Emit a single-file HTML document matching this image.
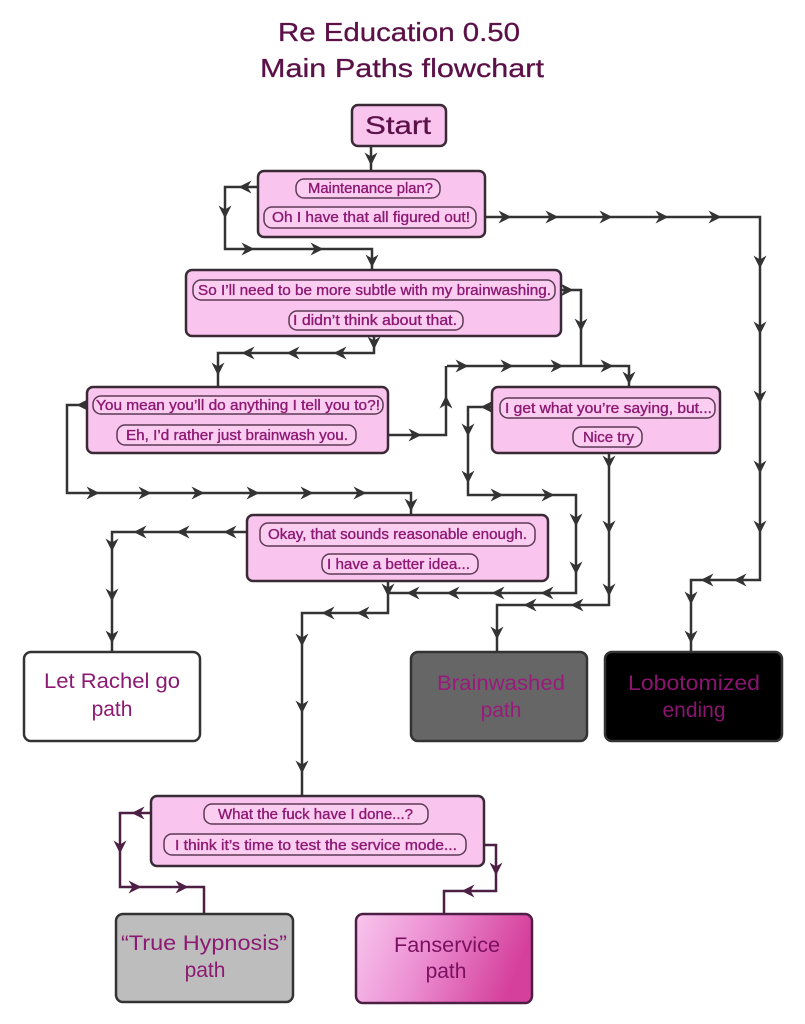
<!DOCTYPE html>
<html><head><meta charset="utf-8"><style>
html,body{margin:0;padding:0;background:#fff;}
svg{display:block;}
text{font-family:"Liberation Sans","DejaVu Sans",sans-serif;}
.pt{font-size:14.5px;fill:#8c1a72;stroke:#8c1a72;stroke-width:0.35;}
.bx{fill:#f9c4ee;stroke:#3a2a36;stroke-width:2.5;}
.pl{fill:#fbcdf1;stroke:#5e3a55;stroke-width:1.5;}
.ln{fill:none;stroke:#333;stroke-width:2.5;stroke-linejoin:miter;}
.lp{fill:none;stroke:#4d1f45;stroke-width:2.5;}
.et{font-size:21px;text-anchor:middle;}
</style></head><body>
<svg width="805" height="1024" viewBox="0 0 805 1024" xmlns="http://www.w3.org/2000/svg">
<defs>
<path id="a" d="M6.5,0 L-6.5,-6.5 L-2.5,0 L-6.5,6.5 Z" fill="#333"/>
<path id="b" d="M6.5,0 L-6.5,-6.5 L-2.5,0 L-6.5,6.5 Z" fill="#4d1f45"/>
<linearGradient id="fg" x1="0" y1="0" x2="1" y2="0.2">
<stop offset="0" stop-color="#f8c6ee"/>
<stop offset="0.45" stop-color="#ec8fd2"/>
<stop offset="1" stop-color="#d5409c"/>
</linearGradient>
</defs>

<!-- Title -->
<text x="399" y="41" font-size="26" fill="#5b1148" stroke="#5b1148" stroke-width="0.3" text-anchor="middle" textLength="242" lengthAdjust="spacingAndGlyphs">Re Education 0.50</text>
<text x="402" y="77" font-size="26" fill="#5b1148" stroke="#5b1148" stroke-width="0.3" text-anchor="middle" textLength="284" lengthAdjust="spacingAndGlyphs">Main Paths flowchart</text>

<!-- Connectors -->
<polyline class="ln" points="371,146 371,171"/>
<polyline class="ln" points="296,187 225,187 225,249 372,249 372,270"/>
<polyline class="ln" points="476,217 760,217 760,580 691,580 691,652"/>
<polyline class="ln" points="555,290 581,290 581,366"/>
<polyline class="ln" points="447,366 629,366 629,387"/>
<polyline class="ln" points="374,330 374,353 218,353 218,387"/>
<polyline class="ln" points="93,405 67,405 67,493 411,493 411,515"/>
<polyline class="ln" points="356,435 446,435 446,366"/>
<polyline class="ln" points="500,407 468,407 468,495 576,495 576,593 388,593"/>
<polyline class="ln" points="609,447 609,605 497,605 497,652"/>
<polyline class="ln" points="260,532 112,532 112,652"/>
<polyline class="ln" points="388,574 388,613 302,613 302,796"/>
<polyline class="lp" points="204,813 120,813 120,887 204,887 204,914"/>
<polyline class="lp" points="466,845 496,845 496,891 444,891 444,914"/>

<!-- Arrowheads -->
<use href="#a" transform="translate(371,159) rotate(90)"/>
<use href="#a" transform="translate(278,187) rotate(180)"/>
<use href="#a" transform="translate(245,187) rotate(180)"/>
<use href="#a" transform="translate(225,212) rotate(90)"/>
<use href="#a" transform="translate(248,249)"/>
<use href="#a" transform="translate(317,249)"/>
<use href="#a" transform="translate(372,261) rotate(90)"/>

<use href="#a" transform="translate(505,217)"/>
<use href="#a" transform="translate(552,217)"/>
<use href="#a" transform="translate(606,217)"/>
<use href="#a" transform="translate(662,217)"/>
<use href="#a" transform="translate(715,217)"/>
<use href="#a" transform="translate(760,262) rotate(90)"/>
<use href="#a" transform="translate(760,328) rotate(90)"/>
<use href="#a" transform="translate(760,397) rotate(90)"/>
<use href="#a" transform="translate(760,467) rotate(90)"/>
<use href="#a" transform="translate(760,527) rotate(90)"/>
<use href="#a" transform="translate(740,580) rotate(180)"/>
<use href="#a" transform="translate(707,580) rotate(180)"/>
<use href="#a" transform="translate(691,598) rotate(90)"/>
<use href="#a" transform="translate(691,637) rotate(90)"/>

<use href="#a" transform="translate(567,290)"/>
<use href="#a" transform="translate(581,325) rotate(90)"/>
<use href="#a" transform="translate(462,366)"/>
<use href="#a" transform="translate(507,366)"/>
<use href="#a" transform="translate(557,366)"/>
<use href="#a" transform="translate(607,366)"/>
<use href="#a" transform="translate(629,378) rotate(90)"/>

<use href="#a" transform="translate(374,343) rotate(90)"/>
<use href="#a" transform="translate(340,353) rotate(180)"/>
<use href="#a" transform="translate(293,353) rotate(180)"/>
<use href="#a" transform="translate(248,353) rotate(180)"/>
<use href="#a" transform="translate(218,369) rotate(90)"/>

<use href="#a" transform="translate(83,405) rotate(180)"/>
<use href="#a" transform="translate(93,493)"/>
<use href="#a" transform="translate(145,493)"/>
<use href="#a" transform="translate(198,493)"/>
<use href="#a" transform="translate(253,493)"/>
<use href="#a" transform="translate(307,493)"/>
<use href="#a" transform="translate(360,493)"/>
<use href="#a" transform="translate(411,505) rotate(90)"/>

<use href="#a" transform="translate(373,435)"/>
<use href="#a" transform="translate(415,435)"/>
<use href="#a" transform="translate(446,402) rotate(-90)"/>

<use href="#a" transform="translate(487,407) rotate(180)"/>
<use href="#a" transform="translate(468,430) rotate(90)"/>
<use href="#a" transform="translate(468,477) rotate(90)"/>
<use href="#a" transform="translate(497,495)"/>
<use href="#a" transform="translate(548,495)"/>
<use href="#a" transform="translate(576,520) rotate(90)"/>
<use href="#a" transform="translate(576,568) rotate(90)"/>
<use href="#a" transform="translate(547,593) rotate(180)"/>
<use href="#a" transform="translate(498,593) rotate(180)"/>
<use href="#a" transform="translate(453,593) rotate(180)"/>
<use href="#a" transform="translate(413,593) rotate(180)"/>

<use href="#a" transform="translate(609,462) rotate(90)"/>
<use href="#a" transform="translate(609,527) rotate(90)"/>
<use href="#a" transform="translate(609,590) rotate(90)"/>
<use href="#a" transform="translate(577,605) rotate(180)"/>
<use href="#a" transform="translate(530,605) rotate(180)"/>
<use href="#a" transform="translate(497,633) rotate(90)"/>

<use href="#a" transform="translate(230,532) rotate(180)"/>
<use href="#a" transform="translate(183,532) rotate(180)"/>
<use href="#a" transform="translate(140,532) rotate(180)"/>
<use href="#a" transform="translate(112,545) rotate(90)"/>
<use href="#a" transform="translate(112,595) rotate(90)"/>
<use href="#a" transform="translate(112,637) rotate(90)"/>

<use href="#a" transform="translate(388,590) rotate(90)"/>
<use href="#a" transform="translate(363,613) rotate(180)"/>
<use href="#a" transform="translate(328,613) rotate(180)"/>
<use href="#a" transform="translate(302,640) rotate(90)"/>
<use href="#a" transform="translate(302,707) rotate(90)"/>
<use href="#a" transform="translate(302,767) rotate(90)"/>

<use href="#b" transform="translate(185,813) rotate(180)"/>
<use href="#b" transform="translate(138,813) rotate(180)"/>
<use href="#b" transform="translate(120,847) rotate(90)"/>
<use href="#b" transform="translate(135,887)"/>
<use href="#b" transform="translate(182,887)"/>
<use href="#b" transform="translate(496,869) rotate(90)"/>
<use href="#b" transform="translate(468,891) rotate(180)"/>

<!-- Start -->
<rect class="bx" x="352" y="105" width="94" height="41" rx="6"/>
<text x="398" y="134" font-size="25" fill="#5b1148" stroke="#5b1148" stroke-width="0.3" text-anchor="middle" textLength="66" lengthAdjust="spacingAndGlyphs">Start</text>

<!-- Box1 -->
<rect class="bx" x="258" y="171" width="227" height="66" rx="6"/>
<rect class="pl" x="296" y="179" width="144" height="19" rx="8"/>
<text class="pt" x="308" y="193" textLength="125" lengthAdjust="spacingAndGlyphs">Maintenance plan?</text>
<rect class="pl" x="264" y="207" width="212" height="21" rx="8"/>
<text class="pt" x="272" y="222" textLength="198" lengthAdjust="spacingAndGlyphs">Oh I have that all figured out!</text>

<!-- Box2 -->
<rect class="bx" x="186" y="270" width="375" height="66" rx="6"/>
<rect class="pl" x="193" y="280" width="362" height="20" rx="8"/>
<text class="pt" x="198" y="295" textLength="353" lengthAdjust="spacingAndGlyphs">So I’ll need to be more subtle with my brainwashing.</text>
<rect class="pl" x="289" y="311" width="174" height="19" rx="8"/>
<text class="pt" x="293" y="325" textLength="164" lengthAdjust="spacingAndGlyphs">I didn’t think about that.</text>

<!-- Box3 -->
<rect class="bx" x="87" y="387" width="301" height="66" rx="6"/>
<rect class="pl" x="93" y="396" width="290" height="18" rx="8"/>
<text class="pt" x="96" y="410" textLength="284" lengthAdjust="spacingAndGlyphs">You mean you’ll do anything I tell you to?!</text>
<rect class="pl" x="117" y="425" width="239" height="20" rx="8"/>
<text class="pt" x="126" y="440" textLength="222" lengthAdjust="spacingAndGlyphs">Eh, I’d rather just brainwash you.</text>

<!-- Box4 -->
<rect class="bx" x="492" y="387" width="228" height="66" rx="6"/>
<rect class="pl" x="500" y="398" width="215" height="20" rx="8"/>
<text class="pt" x="505" y="413" textLength="207" lengthAdjust="spacingAndGlyphs">I get what you’re saying, but...</text>
<rect class="pl" x="573" y="427" width="69" height="20" rx="8"/>
<text class="pt" x="583" y="442" textLength="51" lengthAdjust="spacingAndGlyphs">Nice try</text>

<!-- Box5 -->
<rect class="bx" x="247" y="515" width="301" height="66" rx="6"/>
<rect class="pl" x="260" y="523" width="275" height="23" rx="8"/>
<text class="pt" x="268" y="539" textLength="259" lengthAdjust="spacingAndGlyphs">Okay, that sounds reasonable enough.</text>
<rect class="pl" x="322" y="554" width="156" height="20" rx="8"/>
<text class="pt" x="327" y="569" textLength="143" lengthAdjust="spacingAndGlyphs">I have a better idea...</text>

<!-- Box6 -->
<rect class="bx" x="151" y="796" width="333" height="70" rx="6"/>
<rect class="pl" x="204" y="804" width="224" height="20" rx="8"/>
<text class="pt" x="218" y="819" textLength="195" lengthAdjust="spacingAndGlyphs">What the fuck have I done...?</text>
<rect class="pl" x="164" y="834" width="302" height="21" rx="8"/>
<text class="pt" x="175" y="850" textLength="282" lengthAdjust="spacingAndGlyphs">I think it’s time to test the service mode...</text>

<!-- Endings -->
<rect x="24" y="652" width="176" height="89" rx="7" fill="#fff" stroke="#333" stroke-width="2.5"/>
<text class="et" x="112" y="688" fill="#8c1a72" textLength="136" lengthAdjust="spacingAndGlyphs">Let Rachel go</text>
<text class="et" x="112" y="716" fill="#8c1a72">path</text>

<rect x="411" y="652" width="176" height="89" rx="7" fill="#666" stroke="#333" stroke-width="2.5"/>
<text class="et" x="501" y="690" fill="#9a1a7c" textLength="128" lengthAdjust="spacingAndGlyphs">Brainwashed</text>
<text class="et" x="501" y="717" fill="#9a1a7c">path</text>

<rect x="605" y="652" width="177" height="89" rx="7" fill="#000" stroke="#333" stroke-width="2.5"/>
<text class="et" x="694" y="690" fill="#8a1470" textLength="132" lengthAdjust="spacingAndGlyphs">Lobotomized</text>
<text class="et" x="694" y="717" fill="#8a1470">ending</text>

<rect x="116" y="914" width="177" height="88" rx="7" fill="#bdbdbd" stroke="#333" stroke-width="2.5"/>
<text class="et" x="204" y="950" fill="#8c1a72" textLength="166" lengthAdjust="spacingAndGlyphs">“True Hypnosis”</text>
<text class="et" x="205" y="977" fill="#8c1a72">path</text>

<rect x="356" y="914" width="176" height="89" rx="7" fill="url(#fg)" stroke="#4d1f45" stroke-width="2.5"/>
<text class="et" x="447" y="952" fill="#7a1060" textLength="106" lengthAdjust="spacingAndGlyphs">Fanservice</text>
<text class="et" x="446" y="978" fill="#7a1060">path</text>
</svg>
</body></html>
